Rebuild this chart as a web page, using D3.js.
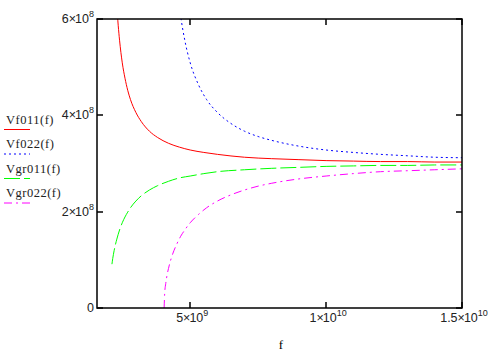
<!DOCTYPE html>
<html>
<head>
<meta charset="utf-8">
<script src="https://cdn.jsdelivr.net/npm/d3@7"></script>
<style>
  body { margin: 0; background: #fff; }
  svg { display: block; }
</style>
</head>
<body>
<svg id="chart" width="498" height="354"></svg>
<script>
// frequencies (Hz / 1e9) and velocities (m/s / 1e8)
const f011 = [2.12, 2.15, 2.2, 2.25, 2.3, 2.35, 2.4, 2.5, 2.6, 2.7, 2.8, 3.0, 3.2, 3.5, 3.8, 4.2, 4.6, 5, 5.5, 6, 7, 8, 9, 10, 11, 12, 13, 14, 15]
const vf011 = [9.88, 8.76, 7.57, 6.81, 6.28, 5.87, 5.56, 5.09, 4.77, 4.52, 4.33, 4.06, 3.87, 3.67, 3.54, 3.42, 3.34, 3.28, 3.23, 3.19, 3.13, 3.10, 3.08, 3.06, 3.05, 3.04, 3.04, 3.03, 3.03]
const vgr011 = [0.91, 1.03, 1.19, 1.32, 1.43, 1.53, 1.62, 1.77, 1.89, 1.99, 2.08, 2.22, 2.33, 2.45, 2.54, 2.63, 2.70, 2.74, 2.79, 2.83, 2.87, 2.90, 2.92, 2.94, 2.95, 2.96, 2.96, 2.97, 2.97]

const f022 = [4.06, 4.1, 4.15, 4.2, 4.3, 4.4, 4.5, 4.65, 4.8, 5.0, 5.3, 5.6, 6, 6.5, 7, 7.5, 8, 9, 10, 11, 12, 13, 14, 15]
const vf022 = [30.3, 17.6, 13.1, 11.0, 8.76, 7.57, 6.81, 6.06, 5.56, 5.09, 4.64, 4.33, 4.06, 3.83, 3.67, 3.56, 3.48, 3.36, 3.28, 3.23, 3.19, 3.16, 3.13, 3.12]
const vgr022 = [0.30, 0.51, 0.69, 0.82, 1.03, 1.19, 1.32, 1.49, 1.62, 1.77, 1.94, 2.08, 2.22, 2.35, 2.45, 2.53, 2.59, 2.68, 2.74, 2.79, 2.83, 2.85, 2.87, 2.89]
const f022g = [4.04].concat(f022)
const vgr022g = [0].concat(vgr022)

const xTicks = [5, 10, 15]
const xTickLabels = [["5", "9"], ["1", "10"], ["1.5", "10"]]
const yTicks = [0, 2, 4, 6]
const yTickLabels = [["0", ""], ["2", "8"], ["4", "8"], ["6", "8"]]

const legendNames = ["Vf011(f)", "Vf022(f)", "Vgr011(f)", "Vgr022(f)"]
const colors = ["#ff0000", "#0000ff", "#00ff00", "#ff00ff"]
const dashes = [null, "2,3", "16,4", "8,4,2,4"]

const svg = d3.select("#chart")
const pL = 97, pR = 462, pT = 19, pB = 308

const x = d3.scaleLinear().domain([1.57, 15]).range([pL, pR])
const y = d3.scaleLinear().domain([0, 6]).range([pB, pT])

svg.append("clipPath").attr("id", "plotclip")
    .append("rect")
    .attr("x", pL).attr("y", pT)
    .attr("width", pR - pL).attr("height", pB - pT)

const series = [
    {f: f011, v: vf011},
    {f: f022, v: vf022},
    {f: f011, v: vgr011},
    {f: f022g, v: vgr022g}
]

const line = d3.line()
    .x(d => x(d[0]))
    .y(d => y(d[1]))
    .curve(d3.curveMonotoneX)

const plot = svg.append("g").attr("clip-path", "url(#plotclip)")
series.forEach((s, i) => {
    plot.append("path")
        .datum(s.f.map((fv, j) => [fv, s.v[j]]))
        .attr("d", line)
        .attr("fill", "none")
        .attr("stroke", colors[i])
        .attr("stroke-width", 1)
        .attr("stroke-dasharray", dashes[i])
})

// frame
svg.append("rect")
    .attr("x", pL).attr("y", pT)
    .attr("width", pR - pL).attr("height", pB - pT)
    .attr("fill", "none").attr("stroke", "#000").attr("stroke-width", 1.5)

// inside ticks on all four sides
const tickLen = 6
const ticks = svg.append("g").attr("stroke", "#000").attr("stroke-width", 1.5)
xTicks.forEach(t => {
    const px = Math.round(x(t))
    ticks.append("line").attr("x1", px).attr("x2", px).attr("y1", pB).attr("y2", pB - tickLen)
    ticks.append("line").attr("x1", px).attr("x2", px).attr("y1", pT).attr("y2", pT + tickLen)
})
yTicks.forEach(t => {
    const py = Math.round(y(t))
    ticks.append("line").attr("x1", pL).attr("x2", pL + tickLen).attr("y1", py).attr("y2", py)
    ticks.append("line").attr("x1", pR).attr("x2", pR - tickLen).attr("y1", py).attr("y2", py)
})

const sans = "'Liberation Sans', Arial, sans-serif"
const serif = "'Liberation Serif', 'Times New Roman', serif"

function sciLabel(g, parts) {
    const txt = g.append("text")
        .attr("font-family", sans).attr("font-size", 12.5).attr("fill", "#222")
    txt.append("tspan").text(parts[0])
    if (parts[1]) {
        txt.append("tspan").attr("letter-spacing", -1).text("\u00d7")
        txt.append("tspan").text("10")
        txt.append("tspan").attr("dy", -6).attr("font-size", 9).text(parts[1])
    }
    return txt
}

xTicks.forEach((t, i) => {
    sciLabel(svg, xTickLabels[i])
        .attr("x", x(t) + 2).attr("y", 322)
        .attr("text-anchor", "middle")
})
yTicks.forEach((t, i) => {
    sciLabel(svg, yTickLabels[i])
        .attr("x", 94).attr("y", y(t) + 4)
        .attr("text-anchor", "end")
})

svg.append("text")
    .attr("x", 281).attr("y", 349)
    .attr("text-anchor", "middle")
    .attr("font-family", serif).attr("font-size", 13)
    .text("f")

// legend
legendNames.forEach((name, i) => {
    const by = 123.5 + i * 24.5
    svg.append("text")
        .attr("x", 6).attr("y", by)
        .attr("font-family", serif).attr("font-size", 12.5).attr("fill", "#222")
        .attr("letter-spacing", 0.5)
        .text(name)
    svg.append("line")
        .attr("x1", 4).attr("x2", 30)
        .attr("y1", by + 6).attr("y2", by + 6)
        .attr("stroke", colors[i]).attr("stroke-width", 1)
        .attr("stroke-dasharray", dashes[i])
})
</script>
</body>
</html>
